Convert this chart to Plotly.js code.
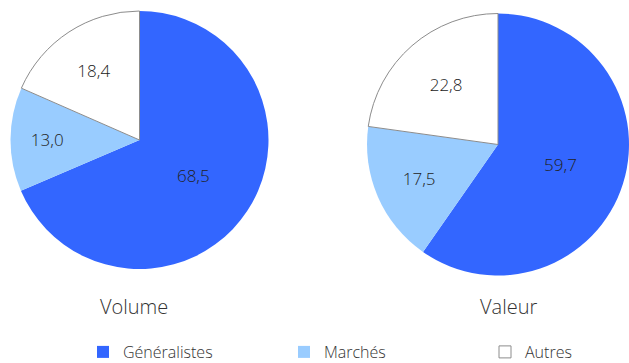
<!DOCTYPE html>
<html><head><meta charset="utf-8">
<script src="https://cdn.plot.ly/plotly-3.0.1.min.js"></script>
<style>html,body{margin:0;padding:0;background:#fff;}#chart{width:629px;height:363px;}</style>
</head><body><div id="chart"></div>
<script>
const categories = ['Généralistes', 'Marchés', 'Autres'];
const volumeValues = [68.5, 13.0, 18.4];
const valeurValues = [59.7, 17.5, 22.8];
const pieTitles = ['Volume', 'Valeur'];
const colors = ['#3366FF', '#99CCFF', '#FFFFFF'];
const W = 629, H = 363;
const FONT = '"Open Sans", Lato, sans-serif';
function dom(x0, x1, yTop, yBot) {
  return {x: [x0 / W, x1 / W], y: [(H - yBot) / H, (H - yTop) / H]};
}
const common = {
  type: 'pie', labels: categories, sort: false, direction: 'clockwise', rotation: 0,
  marker: {colors: colors, line: {color: ['#3366FF', '#99CCFF', '#8c8c8c'], width: [0, 0, 1]}},
  textinfo: 'value', texttemplate: '%{value:.1f}', textposition: 'inside',
  insidetextorientation: 'horizontal',
  textfont: {family: FONT, size: 17, color: '#222', weight: 300},
  hoverinfo: 'none'
};
const data = [
  Object.assign({}, common, {values: volumeValues, domain: dom(10.5, 268.5, 11, 269)}),
  Object.assign({}, common, {values: valeurValues, domain: dom(367, 629, 13, 276)})
];
const layout = {
  width: W, height: H, margin: {l: 0, r: 0, t: 0, b: 0, autoexpand: false},
  paper_bgcolor: '#fff', separators: ', ',
  font: {family: FONT, color: '#333', weight: 300},
  showlegend: true,
  legend: {orientation: 'h', x: 83 / W, xanchor: 'left', y: (H - 352) / H, yanchor: 'middle',
    entrywidth: 156, entrywidthmode: 'pixels', font: {family: FONT, size: 16, color: '#333', weight: 300}, traceorder: 'normal'},
  annotations: [
    {text: pieTitles[0], x: 134 / W, y: (H - 306) / H, xref: 'paper', yref: 'paper', showarrow: false,
     xanchor: 'center', yanchor: 'middle',
     font: {family: FONT, size: 20, color: '#333', weight: 300}},
    {text: pieTitles[1], x: 508 / W, y: (H - 306) / H, xref: 'paper', yref: 'paper', showarrow: false,
     xanchor: 'center', yanchor: 'middle',
     font: {family: FONT, size: 20, color: '#333', weight: 300}}
  ]
};
Plotly.newPlot('chart', data, layout, {staticPlot: true});
</script></body></html>
